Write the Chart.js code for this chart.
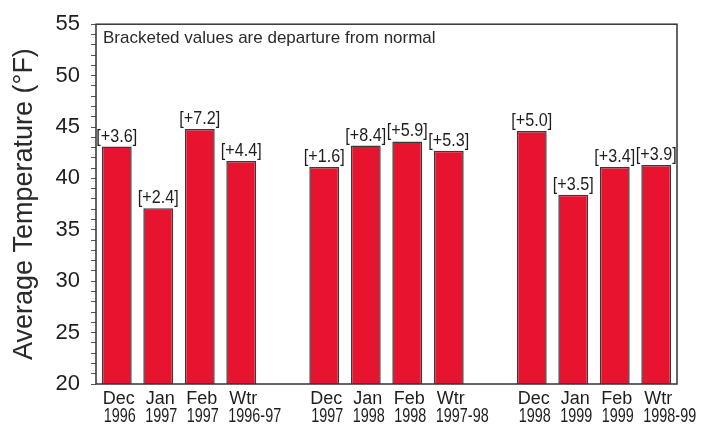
<!DOCTYPE html>
<html>
<head>
<meta charset="utf-8">
<script src="https://cdn.jsdelivr.net/npm/chart.js@4.4.1/dist/chart.umd.min.js"></script>
<style>
  html, body { margin: 0; padding: 0; background: #fff; }
  #wrap { width: 709px; height: 426px; position: relative; }
</style>
</head>
<body>
<div id="wrap"><canvas id="barChart"></canvas></div>
<script>
// empty slots separate the three winters
const monthLabels = ['Dec', 'Jan', 'Feb', 'Wtr', '', 'Dec', 'Jan', 'Feb', 'Wtr', '', 'Dec', 'Jan', 'Feb', 'Wtr'];
const yearLabels = ['1996', '1997', '1997', '1996-97', '', '1997', '1998', '1998', '1997-98', '', '1998', '1999', '1999', '1998-99'];
const avgTemps = [43.1, 37.1, 44.8, 41.7, null, 41.1, 43.2, 43.6, 42.7, null, 44.6, 38.4, 41.1, 41.3];
const departures = ['+3.6', '+2.4', '+7.2', '+4.4', null, '+1.6', '+8.4', '+5.9', '+5.3', null, '+5.0', '+3.5', '+3.4', '+3.9'];
const yMin = 20, yMax = 55, yLabelStep = 5;
const noteText = 'Bracketed values are departure from normal';

const SANS = '"Liberation Sans", Arial, sans-serif';

// no narrow face installed, so squeeze Liberation Sans sideways
function narrowText(ctx, text, x, y, sx) {
    ctx.save();
    ctx.translate(x, y);
    ctx.scale(sx, 1);
    ctx.fillText(text, 0, 0);
    ctx.restore();
}

const annotate = {
    id: 'annotate',
    afterDatasetsDraw(chart) {
        const ctx = chart.ctx;
        const area = chart.chartArea;
        const bars = chart.getDatasetMeta(0).data;

        ctx.save();
        // frame round the plot
        ctx.strokeStyle = '#333';
        ctx.lineWidth = 1.5;
        ctx.strokeRect(area.left, area.top, area.right - area.left, area.bottom - area.top);

        // note in the corner
        ctx.fillStyle = '#2a2a2a';
        ctx.font = '17px ' + SANS;
        ctx.textAlign = 'left';
        ctx.textBaseline = 'middle';
        ctx.fillText(noteText, area.left + 7, area.top + 14);

        // bracketed departures
        ctx.font = '19px ' + SANS;
        ctx.textAlign = 'center';
        ctx.textBaseline = 'alphabetic';
        ctx.fillStyle = '#1e1e1e';
        bars.forEach((bar, i) => {
            if (departures[i] == null) return;
            narrowText(ctx, '[' + departures[i] + ']', bar.x, bar.y - 5, 0.85);
        });

        // two line category labels
        ctx.textBaseline = 'middle';
        bars.forEach((bar, i) => {
            if (!monthLabels[i]) return;
            ctx.fillStyle = '#1e1e1e';
            ctx.font = '18px ' + SANS;
            ctx.textAlign = 'center';
            ctx.fillText(monthLabels[i], bar.x + 2, area.bottom + 15);
            ctx.font = '20px ' + SANS;
            ctx.textAlign = 'left';
            narrowText(ctx, yearLabels[i], bar.x - bar.width / 2 + 2, area.bottom + 32, 0.72);
        });
        ctx.restore();
    }
};

new Chart(document.getElementById('barChart').getContext('2d'), {
    type: 'bar',
    data: {
        labels: monthLabels,
        datasets: [{
            data: avgTemps,
            backgroundColor: '#E8142F',
            borderColor: '#3a3a3a',
            borderWidth: 1.5,
            barPercentage: 0.72,
            categoryPercentage: 1
        }]
    },
    options: {
        responsive: true,
        maintainAspectRatio: false,
        animation: false,
        layout: { padding: { top: 11, right: 32, bottom: 42, left: 0 } },
        plugins: { legend: { display: false }, tooltip: { enabled: false } },
        scales: {
            x: { display: false },
            y: {
                min: yMin,
                max: yMax,
                afterFit: scale => { scale.width = 96; },
                border: { display: false },
                grid: { drawOnChartArea: false, tickLength: 5, color: '#555', lineWidth: 1 },
                ticks: {
                    stepSize: 1,
                    autoSkip: false,
                    padding: 11,
                    color: '#1e1e1e',
                    font: { family: SANS, size: 22 },
                    callback: v => (v % yLabelStep === 0 ? v : '')
                },
                title: {
                    display: true,
                    text: 'Average Temperature (°F)',
                    color: '#2a2a2a',
                    font: { family: SANS, size: 27 },
                    padding: { top: 8, bottom: 0 }
                }
            }
        }
    },
    plugins: [annotate]
});
</script>
</body>
</html>
